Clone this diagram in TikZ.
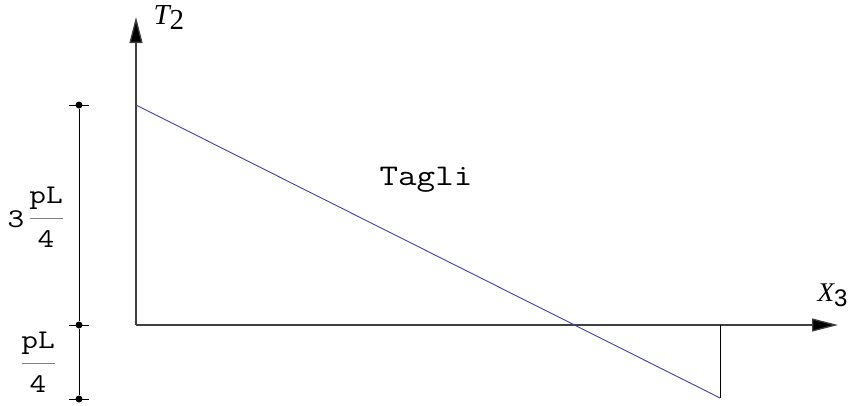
\documentclass[tikz,border=0pt]{standalone}
\usepackage{fontspec}
\usepackage{graphicx}
\usepackage{tikz}
\usetikzlibrary{arrows.meta}
\newfontfamily\axisfont{Liberation Serif}
\newfontfamily\subfont{Liberation Sans}
\newcommand{\cour}[1]{\scalebox{1.2}[1]{\ttfamily #1}}

\begin{document}
\begin{tikzpicture}[x=1pt,y=-1pt]
  \tikzset{axis/.style={line width=1.3pt,draw=black!75,-{Triangle[length=26pt,width=13pt,fill=black]}},
    dimdot/.style={circle,fill=black,inner sep=0pt,minimum size=7pt},
    dimtext/.style={font=\fontsize{27}{28}\selectfont,inner sep=0pt}}
  \useasboundingbox (0,0) rectangle (851,405);
  % axes
  \coordinate (O) at (136,325);
  \coordinate (Ytip) at (136,17);
  \coordinate (Xtip) at (838,325);
  \draw[axis] (O) -- (Ytip);
  \draw[axis] (O) -- (Xtip);
  \node[anchor=west,font=\fontsize{29}{30}\selectfont] (tlab) at (150,18) {{\axisfont\itshape T}\raisebox{-0.4ex}{\axisfont 2}};
  \node[anchor=west,font=\fontsize{27}{28}\selectfont] (xlab) at (814,295) {{\axisfont\itshape X}\raisebox{-0.4ex}{\subfont\fontsize{24}{25}\selectfont 3}};
  % shear diagram
  \coordinate (A) at (136,105);
  \coordinate (B) at (720,398);
  \coordinate (C) at (720,325);
  \draw[line width=0.9pt,draw={rgb,255:red,65;green,65;blue,170}] (A) -- (B);
  \draw[line width=1pt] (C) -- (B);
  \node[font=\fontsize{30}{32}\selectfont] (tagli) at (426,180) {\cour{Tagli}};
  % dimension line
  \node[dimdot] (d1) at (79,105) {};
  \node[dimdot] (d2) at (79,325) {};
  \node[dimdot] (d3) at (79,399) {};
  \draw[line width=1pt] (d1) -- (d2) -- (d3);
  \foreach \d in {d1,d2,d3}
    \draw[line width=1pt] ([xshift=-10pt]\d.center) -- ([xshift=10pt]\d.center);
  \node[dimtext] (three) at (16,219) {\cour{3}};
  \foreach \f/\x/\y in {f1/46/218,f2/38/363} {
    \node[dimtext] (\f num) at (\x,\y-20) {\cour{pL}};
    \node[dimtext] (\f den) at (\x,\y+21) {\cour{4}};
    \draw[line width=1pt,gray] (\x-16.5,\y) -- (\x+16.5,\y);
  }
\end{tikzpicture}
\end{document}
